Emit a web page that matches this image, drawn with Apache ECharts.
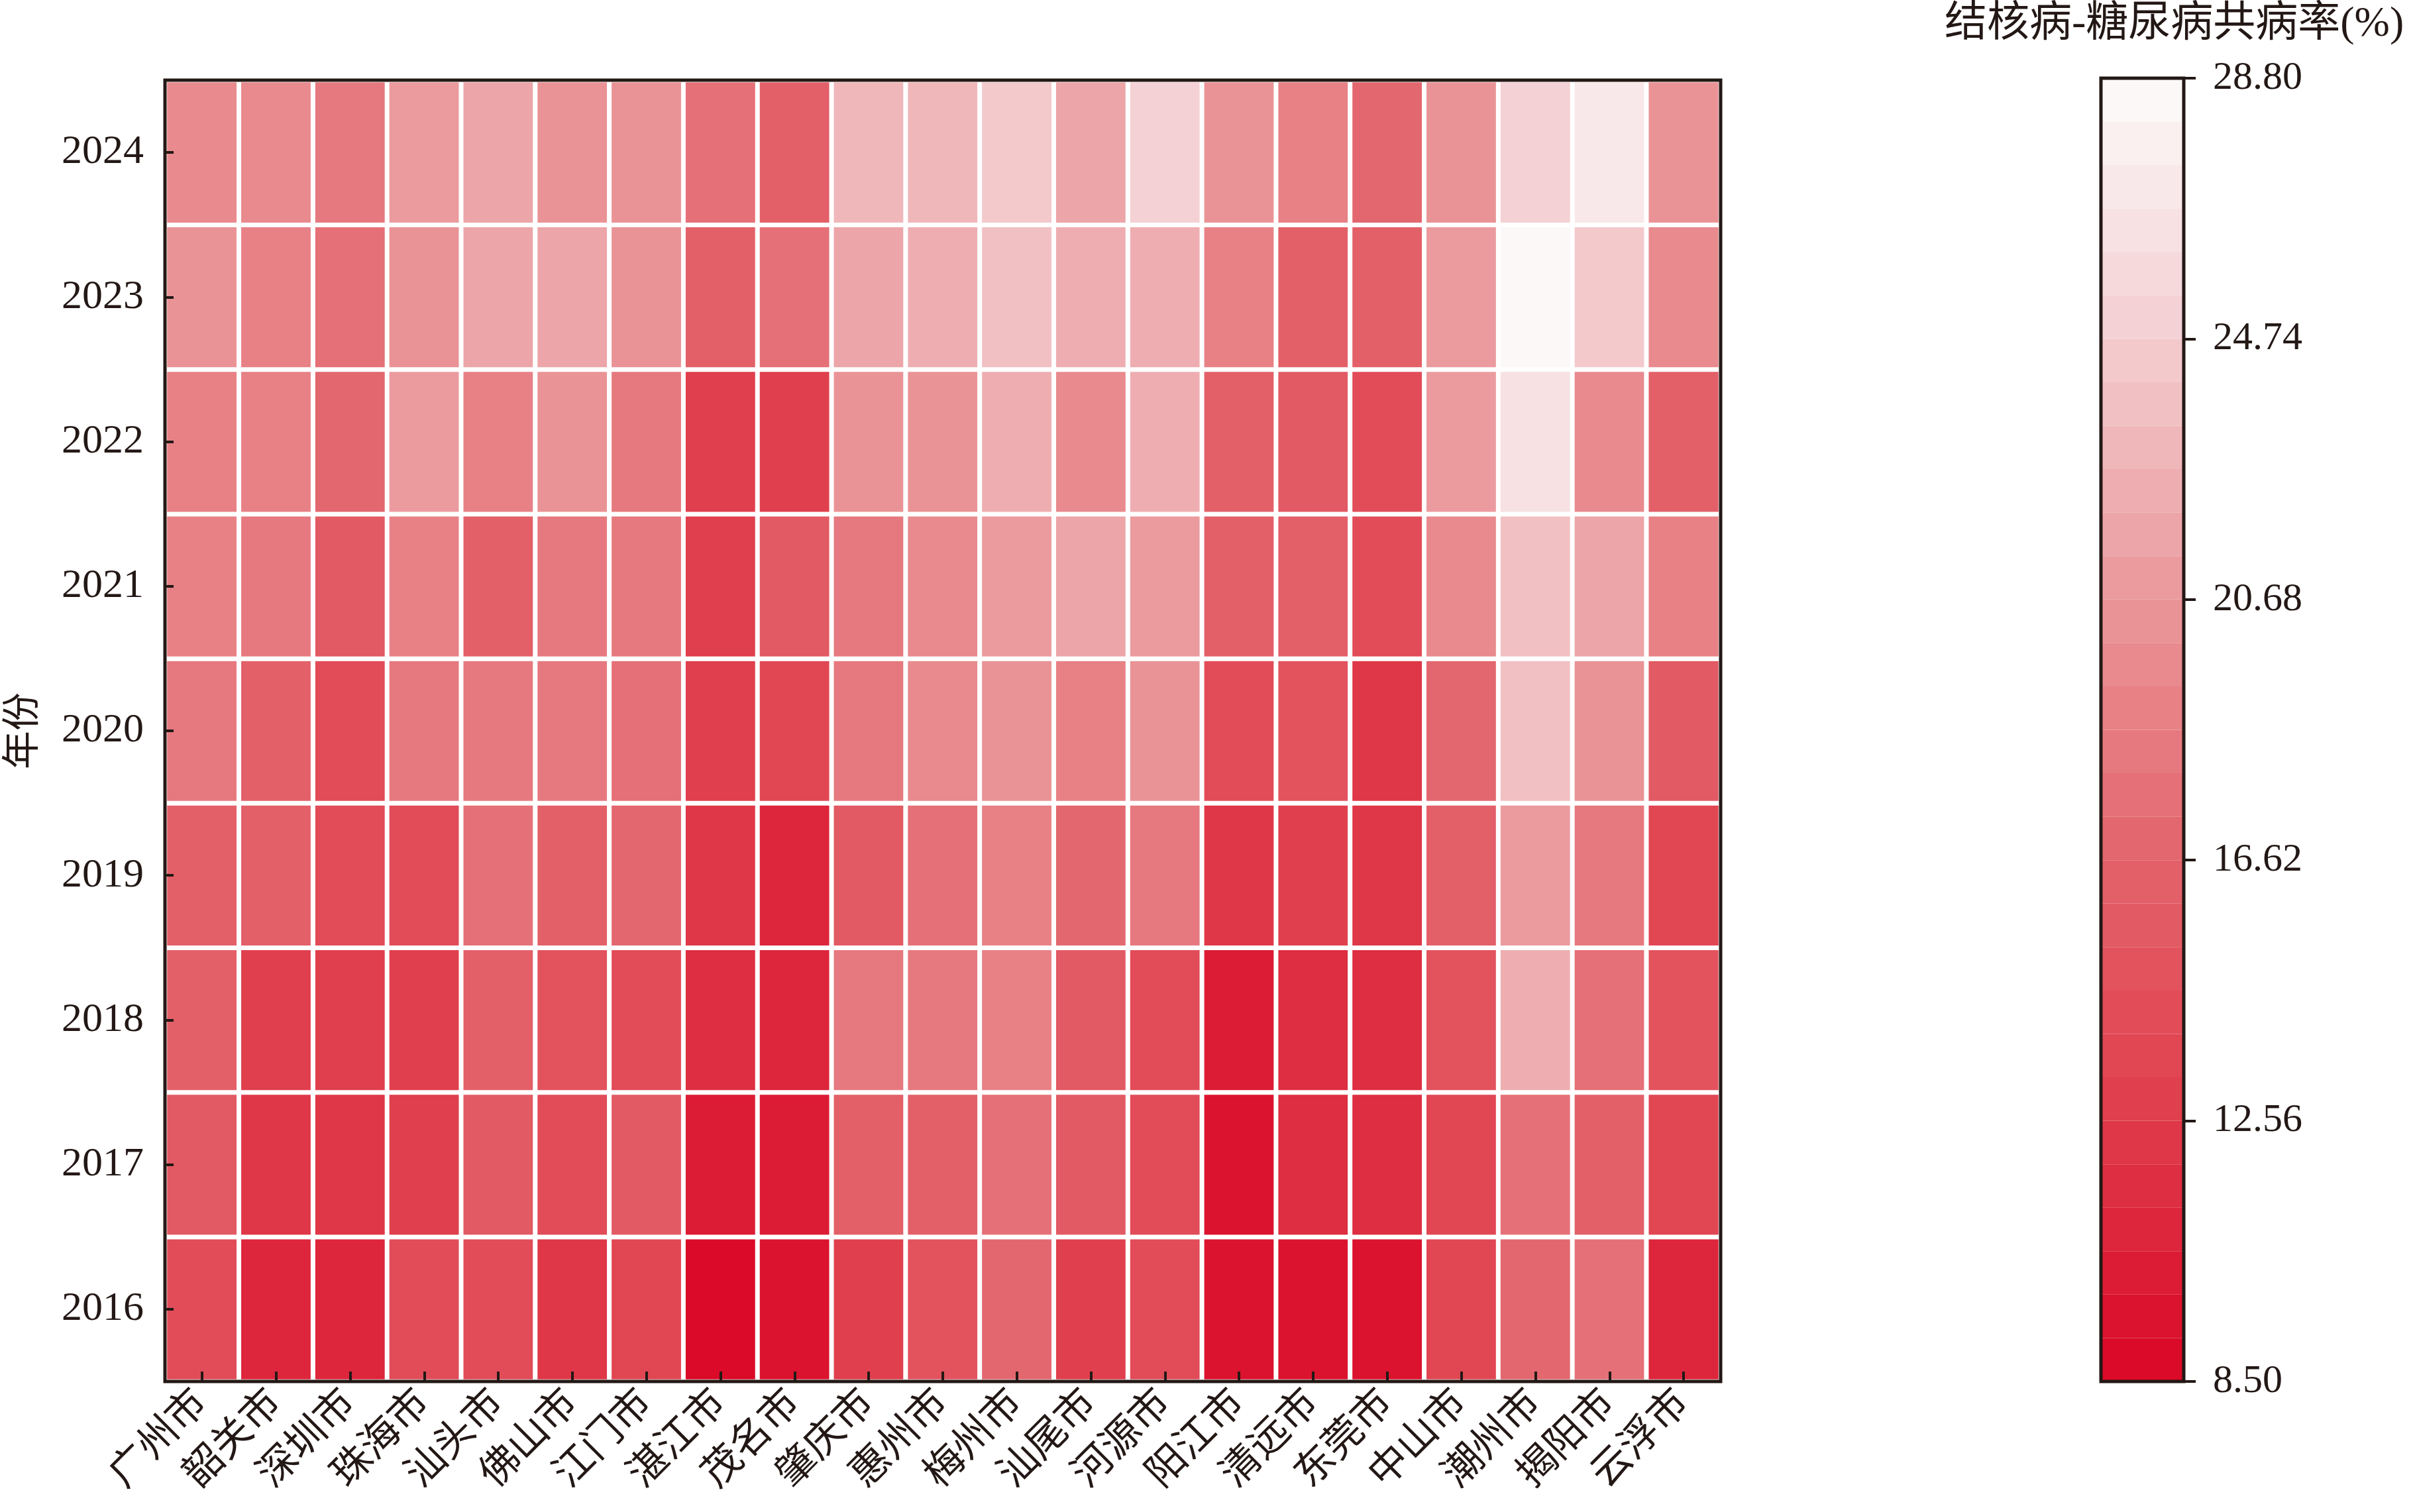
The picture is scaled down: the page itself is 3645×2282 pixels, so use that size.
<!DOCTYPE html>
<html>
<head>
<meta charset="utf-8">
<script src="https://cdn.jsdelivr.net/npm/echarts@6/dist/echarts.min.js"></script>
<style>
html,body{margin:0;padding:0;background:#fff;}
#main{width:3645px;height:2282px;}
</style>
</head>
<body>
<div id="main"></div>
<script>
// ---- data ----
const cities = ['广州市','韶关市','深圳市','珠海市','汕头市','佛山市','江门市','湛江市','茂名市','肇庆市','惠州市','梅州市','汕尾市','河源市','阳江市','清远市','东莞市','中山市','潮州市','揭阳市','云浮市'];
const years = ['2016','2017','2018','2019','2020','2021','2022','2023','2024'];
const v2016 = [14.5,11.0,11.0,14.5,14.3,12.5,13.4, 8.5, 9.5,12.9,14.7,16.9,13.0,14.5, 9.6, 9.6, 9.7,13.6,16.8,17.5,11.2];
const v2017 = [15.6,12.5,12.5,13.0,15.6,14.0,15.5,10.4,10.4,16.4,16.3,17.6,15.5,14.4, 9.3,11.3,11.3,13.3,17.5,16.3,13.3];
const v2018 = [16.4,13.0,13.2,12.9,16.1,15.2,14.4,11.5,11.2,18.4,18.1,19.1,15.6,14.5,10.2,11.3,11.7,15.0,22.1,17.5,14.8];
const v2019 = [16.4,16.0,14.0,14.3,17.6,16.2,16.8,12.0,11.0,15.7,17.6,19.1,17.0,18.2,12.1,12.6,12.5,16.4,20.7,18.1,13.3];
const v2020 = [18.0,16.5,14.0,18.3,18.3,18.2,17.6,12.7,13.5,18.4,20.0,20.6,19.0,20.1,14.5,14.7,12.5,17.0,23.7,20.3,15.6];
const v2021 = [19.3,18.4,15.6,19.1,16.6,18.4,18.3,13.0,15.6,18.2,19.8,20.9,21.4,21.2,16.3,16.5,14.0,19.5,23.7,21.5,19.0];
const v2022 = [19.0,19.3,17.0,21.1,19.0,20.5,18.0,12.8,13.0,20.6,20.1,22.7,19.6,22.7,16.3,15.5,14.4,21.0,26.2,19.6,16.3];
const v2023 = [20.6,19.0,17.6,20.2,21.4,21.4,20.2,16.0,17.6,21.5,22.6,23.7,22.5,22.3,19.1,16.3,16.3,21.0,28.6,24.1,19.8];
const v2024 = [19.8,19.8,18.2,20.7,21.5,20.3,20.3,17.9,16.5,22.8,23.3,24.5,21.8,25.0,20.3,19.3,16.8,20.3,25.0,27.0,20.3];
const valueRows = [v2016,v2017,v2018,v2019,v2020,v2021,v2022,v2023,v2024];
const scaleMin = 8.5, scaleMax = 28.8, scaleStep = 4.06;
const seriesName = '结核病-糖尿病共病率(%)';
const yName = '年份';

// ---- build ----
const heatData = [];
valueRows.forEach((row, yi) => row.forEach((v, xi) => heatData.push([xi, yi, v])));

const FONT = "'Liberation Serif','Noto Sans CJK SC',serif";
const TXT = '#231815';

const chart = echarts.init(document.getElementById('main'));
chart.setOption({
  backgroundColor: '#ffffff',
  animation: false,
  title: {
    text: seriesName,
    left: 2930, top: 0,
    textStyle: {fontFamily: FONT, fontSize: 64, fontWeight: 'normal', color: TXT}
  },
  grid: [
    {left: 249, top: 121, width: 2348, height: 1964, show: true, borderColor: TXT, borderWidth: 5, backgroundColor: 'transparent', z: 10, containLabel: false, outerBoundsMode: 'none'},
    {left: 3171, top: 118, width: 125, height: 1967, show: true, borderColor: TXT, borderWidth: 5, backgroundColor: 'transparent', z: 10, containLabel: false, outerBoundsMode: 'none'}
  ],
  xAxis: [
    {type: 'category', gridIndex: 0, data: cities, z: 10,
     axisLine: {show: false},
     axisTick: {show: true, inside: true, alignWithLabel: true, length: 15, lineStyle: {color: TXT, width: 4}},
     axisLabel: {rotate: 45, interval: 0, margin: 24, fontFamily: FONT, fontSize: 60, color: TXT},
     splitLine: {show: false}},
    {type: 'category', gridIndex: 1, show: false, data: ['']}
  ],
  yAxis: [
    {type: 'category', gridIndex: 0, data: years, z: 10,
     name: yName, nameLocation: 'middle', nameRotate: 90, nameGap: 183,
     nameTextStyle: {fontFamily: FONT, fontSize: 58, color: TXT},
     axisLine: {show: false},
     axisTick: {show: true, inside: true, alignWithLabel: true, length: 13, lineStyle: {color: TXT, width: 4}},
     axisLabel: {margin: 32, fontFamily: FONT, fontSize: 62, color: TXT},
     splitLine: {show: false}},
    {type: 'value', gridIndex: 1, position: 'right', min: scaleMin, max: scaleMax, interval: scaleStep, z: 10,
     axisLine: {show: false, onZero: false},
     axisTick: {show: true, inside: false, length: 18, lineStyle: {color: TXT, width: 4}},
     axisLabel: {margin: 44, fontFamily: FONT, fontSize: 60, color: TXT, formatter: v => v.toFixed(2)},
     splitLine: {show: false}}
  ],
  visualMap: {
    type: 'piecewise',
    seriesIndex: 0,
    min: scaleMin, max: scaleMax,
    splitNumber: 30,
    orient: 'vertical',
    left: 3171, top: 118,
    itemWidth: 125, itemHeight: 1967 / 30, itemGap: 0,
    itemSymbol: 'rect',
    showLabel: false,
    padding: 0,
    hoverLink: false,
    z: 1,
    inRange: {color: ['#da0a28', '#e03e4c', '#e3646c', '#ea9699', '#f3cbce', '#fbf8f7']}
  },
  series: [{
    type: 'heatmap',
    xAxisIndex: 0, yAxisIndex: 0,
    data: heatData,
    itemStyle: {borderColor: '#ffffff', borderWidth: 7},
    emphasis: {disabled: true}
  }]
});
</script>
</body>
</html>
